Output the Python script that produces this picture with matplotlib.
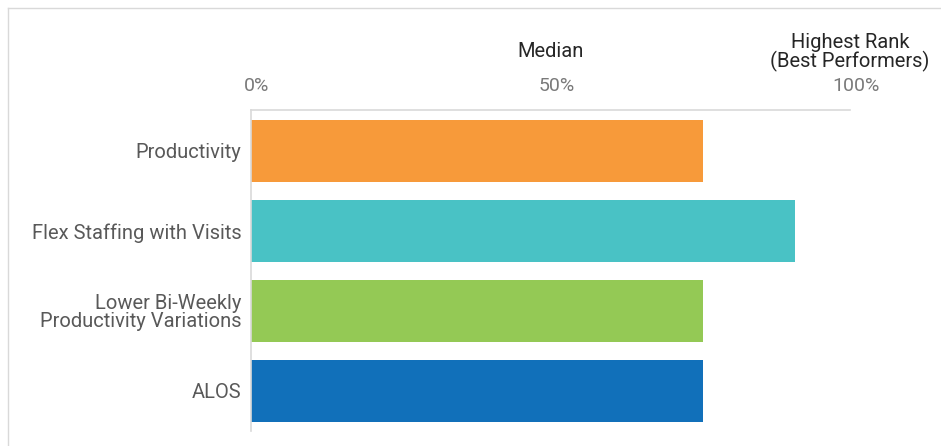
import matplotlib.pyplot as plt
from matplotlib.lines import Line2D
from matplotlib.transforms import ScaledTranslation

# Data
categories = ["Productivity", "Flex Staffing with Visits",
              "Lower Bi-Weekly\nProductivity Variations", "ALOS"]
values = [75.5, 90.8, 75.5, 75.5]
colors = ["#F79A3A", "#49C2C5", "#94C955", "#1170BA"]
tick_vals = [0, 50, 100]
tick_labels = ["0%", "50%", "100%"]
header_pos = [50, 100]
header_text = ["Median", "Highest Rank\n(Best Performers)"]

plt.rcParams['font.family'] = ['Roboto', 'DejaVu Sans']

fig = plt.figure(figsize=(9.41, 4.46), dpi=100)
ax = fig.add_axes([251 / 941, 1 - 431 / 446, 599 / 941, 321 / 446])

ax.barh(range(len(categories)), values, height=0.775, color=colors)
ax.set_xlim(0, 100)
ax.set_ylim(3.5, -0.5125)

ax.set_yticks(range(len(categories)))
ax.set_yticklabels(categories, fontsize=14.5, color="#595959", linespacing=0.95)
ax.xaxis.tick_top()
ax.set_xticks(tick_vals)
ax.set_xticklabels(tick_labels, fontsize=14, color="#7a7a7a")
ax.tick_params(axis="both", length=0)
ax.tick_params(axis="x", pad=11)
ax.tick_params(axis="y", pad=7)
shift = ScaledTranslation(6 / 100, 0, fig.dpi_scale_trans)
for lbl in ax.get_xticklabels():
    lbl.set_transform(lbl.get_transform() + shift)

for side in ["right", "bottom"]:
    ax.spines[side].set_visible(False)
for side in ["top", "left"]:
    ax.spines[side].set_color("#d9d9d9")
    ax.spines[side].set_linewidth(1.2)

# header annotations above the top axis
ax.annotate(header_text[0], xy=(header_pos[0], 1), xycoords=("data", "axes fraction"),
            xytext=(0, 38), textcoords="offset points", ha="center", va="baseline",
            fontsize=14.5, color="#262626", annotation_clip=False)
ax.annotate(header_text[1], xy=(header_pos[1], 1), xycoords=("data", "axes fraction"),
            xytext=(0, 27), textcoords="offset points", ha="center", va="bottom",
            fontsize=14.5, color="#262626", linespacing=0.95, annotation_clip=False)

# outer frame
fig.add_artist(Line2D([8 / 941, 1], [1 - 8 / 446, 1 - 8 / 446],
                      color="#d9d9d9", lw=1))
fig.add_artist(Line2D([8 / 941, 8 / 941], [0, 1 - 8 / 446],
                      color="#d9d9d9", lw=1))

fig.savefig("out.png", dpi=100)
